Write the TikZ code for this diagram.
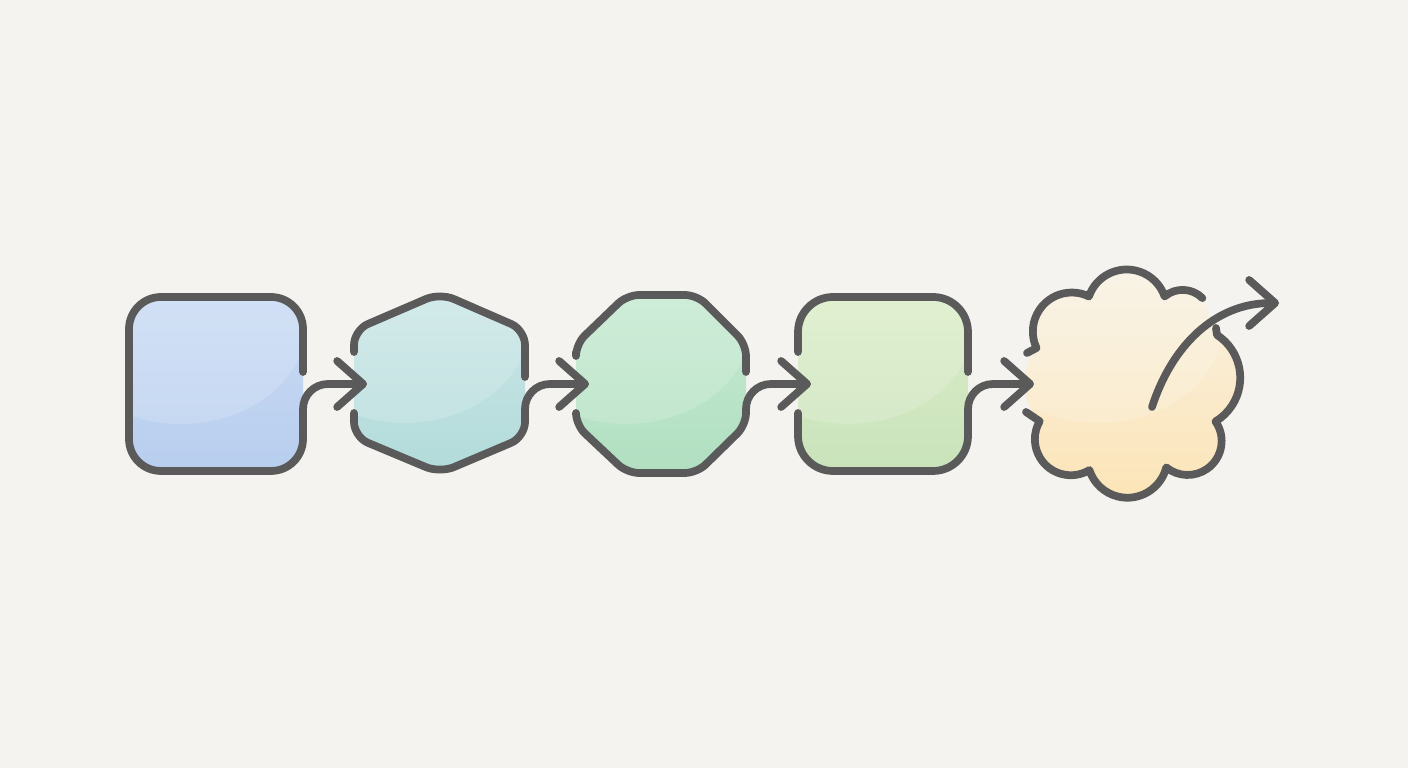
\documentclass[tikz,border=0pt]{standalone}
\usepackage{tikz}
\usetikzlibrary{arrows.meta}
\definecolor{paper}{HTML}{F4F3EF}
\definecolor{ink}{HTML}{5A5A5A}
\definecolor{blueA}{HTML}{C9DBF4}
\definecolor{blueB}{HTML}{B8CEEE}
\definecolor{tealA}{HTML}{CBE6E6}
\definecolor{tealB}{HTML}{B2DBDA}
\definecolor{mintA}{HTML}{C6EAD2}
\definecolor{mintB}{HTML}{B1DFC0}
\definecolor{limeA}{HTML}{DBEDC8}
\definecolor{limeB}{HTML}{C9E3BB}
\definecolor{sandA}{HTML}{F8F2E4}
\definecolor{sandB}{HTML}{FCE4B6}

\begin{document}
\begin{tikzpicture}[
    edge/.style={draw=ink, line width=2.2pt, line cap=round, line join=round},
    flow/.style={edge, rounded corners=2.5mm, -{Straight Barb[length=2.6mm,width=4.6mm,round]}},
    gloss/.style={path picture={\fill[white, fill opacity=0.16] ([shift={(-0.35,0.6)}]path picture bounding box.center) ellipse (1.25 and 1.0);}}
]
    \fill[paper] (0,0) rectangle (14.08,7.68);

    % named ends of the connectors
    \coordinate (s1out) at (3.03,3.58);
    \coordinate (s2in) at (3.67,3.84);
    \coordinate (s2out) at (5.25,3.58);
    \coordinate (s3in) at (5.89,3.84);
    \coordinate (s3out) at (7.46,3.58);
    \coordinate (s4in) at (8.11,3.84);
    \coordinate (s4out) at (9.68,3.58);
    \coordinate (s5in) at (10.34,3.84);
    \coordinate (s5from) at (11.52,3.61);
    \coordinate (s5to) at (12.79,4.65);

    % square
    \path[top color=blueA, bottom color=blueB, gloss, rounded corners=3.2mm] (1.29,2.97) rectangle (3.03,4.71);
    \draw[edge, rounded corners=3.2mm] (3.03,3.96) -- (3.03,4.71) -- (1.29,4.71) -- (1.29,2.97) -- (3.03,2.97) -- (s1out);

    % hexagon
    \path[top color=tealA, bottom color=tealB, gloss, rounded corners=1.5mm] (3.54,3.31) -- (3.54,4.38) -- (4.40,4.75) -- (5.25,4.38) -- (5.25,3.31) -- (4.40,2.95) -- cycle;
    \draw[edge, rounded corners=1.5mm] (3.54,4.16) -- (3.54,4.38) -- (4.40,4.75) -- (5.25,4.38) -- (5.25,3.91);
    \draw[edge, rounded corners=1.5mm] (3.54,3.55) -- (3.54,3.31) -- (4.40,2.95) -- (5.25,3.31) -- (s2out);

    % octagon
    \path[top color=mintA, bottom color=mintB, gloss, rounded corners=1.2mm] (5.76,3.43) -- (5.76,4.24) -- (6.27,4.73) -- (6.97,4.73) -- (7.46,4.24) -- (7.46,3.43) -- (6.97,2.95) -- (6.27,2.95) -- cycle;
    \draw[edge, rounded corners=1.2mm] (5.76,4.16) -- (5.76,4.24) -- (6.27,4.73) -- (6.97,4.73) -- (7.46,4.24) -- (7.46,3.96);
    \draw[edge, rounded corners=1.2mm] (5.76,3.55) -- (5.76,3.43) -- (6.27,2.95) -- (6.97,2.95) -- (7.46,3.43) -- (s3out);

    % rounded square
    \path[top color=limeA, bottom color=limeB, gloss, rounded corners=3.5mm] (7.98,2.97) rectangle (9.68,4.71);
    \draw[edge, rounded corners=3.5mm] (7.98,4.16) -- (7.98,4.71) -- (9.68,4.71) -- (9.68,3.96);
    \draw[edge, rounded corners=3.5mm] (7.98,3.55) -- (7.98,2.97) -- (9.68,2.97) -- (s4out);

    % cloud
    \path[top color=sandA, bottom color=sandB, gloss] (10.365,4.20) arc[start angle=205, end angle=64, radius=0.39]
        arc[start angle=161, end angle=19, radius=0.40] arc[start angle=130, end angle=45, radius=0.28]
        -- (12.17,4.33) arc[start angle=57, end angle=-59, radius=0.51] arc[start angle=35, end angle=-129, radius=0.34]
        arc[start angle=-14, end angle=-162, radius=0.40] arc[start angle=-59, end angle=-210, radius=0.36]
        to[bend left=40] (10.365,4.20) -- cycle;
    \draw[edge] (10.27,4.15) -- (10.365,4.20) arc[start angle=205, end angle=64, radius=0.39]
        arc[start angle=161, end angle=19, radius=0.40] arc[start angle=130, end angle=45, radius=0.28];
    \draw[edge] (12.16,4.40) -- (12.17,4.33) arc[start angle=57, end angle=-59, radius=0.51] arc[start angle=35, end angle=-129, radius=0.34]
        arc[start angle=-14, end angle=-162, radius=0.40] arc[start angle=-59, end angle=-210, radius=0.36] -- (10.26,3.56);

    % connectors
    \draw[flow] (s1out) |- (s2in);
    \draw[flow] (s2out) |- (s3in);
    \draw[flow] (s3out) |- (s4in);
    \draw[flow] (s4out) |- (s5in);
    \draw[edge, -{Straight Barb[length=2.6mm,width=4.6mm,round]}] (s5from) to[out=72, in=180] (s5to);
\end{tikzpicture}
\end{document}
